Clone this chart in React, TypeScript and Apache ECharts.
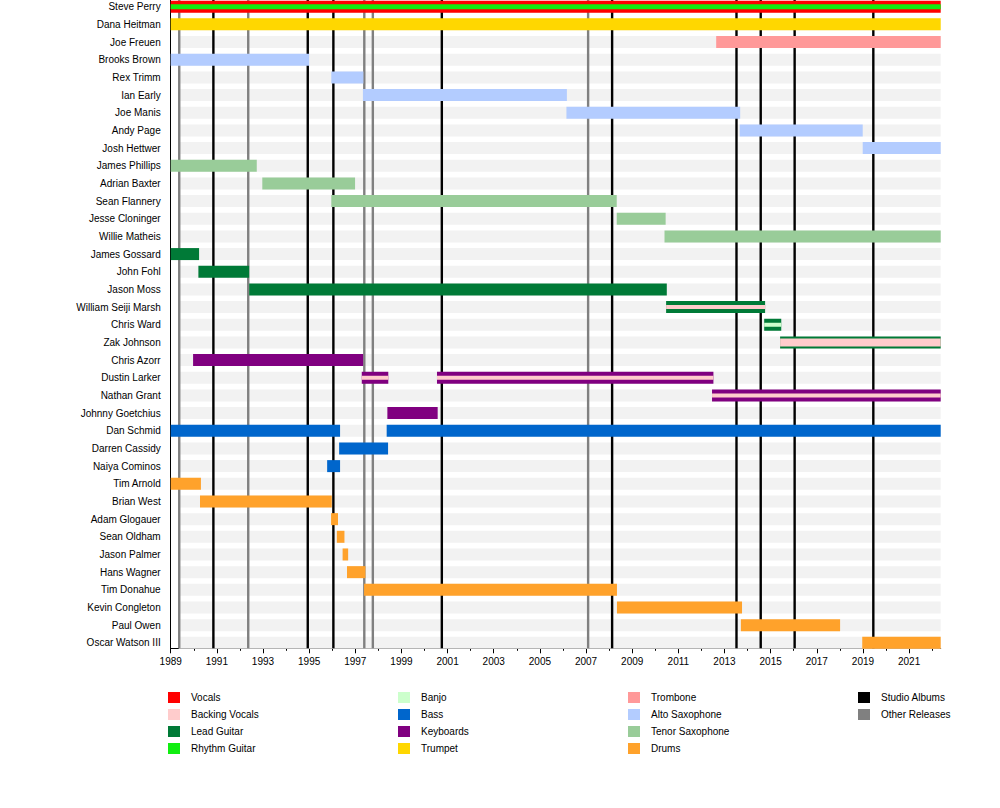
import React, { useEffect, useRef } from "react";
import * as echarts from "echarts";

// ---------- DATA ----------
const START = 1989;
const END = 2022.37;
const STRIPE_START = 1989.35;

const members = [
  "Steve Perry", "Dana Heitman", "Joe Freuen", "Brooks Brown", "Rex Trimm", "Ian Early",
  "Joe Manis", "Andy Page", "Josh Hettwer", "James Phillips", "Adrian Baxter", "Sean Flannery",
  "Jesse Cloninger", "Willie Matheis", "James Gossard", "John Fohl", "Jason Moss",
  "William Seiji Marsh", "Chris Ward", "Zak Johnson", "Chris Azorr", "Dustin Larker",
  "Nathan Grant", "Johnny Goetchius", "Dan Schmid", "Darren Cassidy", "Naiya Cominos",
  "Tim Arnold", "Brian West", "Adam Glogauer", "Sean Oldham", "Jason Palmer", "Hans Wagner",
  "Tim Donahue", "Kevin Congleton", "Paul Owen", "Oscar Watson III",
];

const majorTickYears = [1989, 1991, 1993, 1995, 1997, 1999, 2001, 2003, 2005, 2007, 2009, 2011, 2013, 2015, 2017, 2019, 2021];
const minorTickYears = [1990, 1992, 1994, 1996, 1998, 2000, 2002, 2004, 2006, 2008, 2010, 2012, 2014, 2016, 2018, 2020, 2022];

const studioAlbums = [1990.85, 1994.94, 1996.05, 2000.75, 2008.13, 2013.52, 2014.57, 2016.04, 2019.45];
const otherReleases = [1989.37, 1992.36, 1997.39, 1997.76, 2007.09];

// [member, from, to]
const vocals = [["Steve Perry", 1989, END]];
const trumpet = [["Dana Heitman", 1989, END]];
const trombone = [["Joe Freuen", 2012.64, END]];
const altoSaxophone = [
  ["Brooks Brown", 1989, 1995.0],
  ["Rex Trimm", 1995.96, 1997.35],
  ["Ian Early", 1997.33, 2006.17],
  ["Joe Manis", 2006.15, 2013.68],
  ["Andy Page", 2013.66, 2018.99],
  ["Josh Hettwer", 2018.99, END],
];
const tenorSaxophone = [
  ["James Phillips", 1989, 1992.73],
  ["Adrian Baxter", 1992.97, 1996.99],
  ["Sean Flannery", 1995.96, 2008.33],
  ["Jesse Cloninger", 2008.33, 2010.45],
  ["Willie Matheis", 2010.4, END],
];
const leadGuitar = [
  ["James Gossard", 1989, 1990.23],
  ["John Fohl", 1990.2, 1992.4],
  ["Jason Moss", 1992.4, 2010.5],
  ["William Seiji Marsh", 2010.47, 2014.76],
  ["Chris Ward", 2014.72, 2015.46],
  ["Zak Johnson", 2015.41, END],
];
const keyboards = [
  ["Chris Azorr", 1989.97, 1997.34],
  ["Dustin Larker", 1997.28, 1998.43],
  ["Dustin Larker", 2000.54, 2012.52],
  ["Nathan Grant", 2012.46, END],
  ["Johnny Goetchius", 1998.39, 2000.57],
];
const bass = [
  ["Dan Schmid", 1989, 1996.34],
  ["Dan Schmid", 1998.36, END],
  ["Darren Cassidy", 1996.3, 1998.42],
  ["Naiya Cominos", 1995.78, 1996.34],
];
const drums = [
  ["Tim Arnold", 1989, 1990.31],
  ["Brian West", 1990.27, 1995.98],
  ["Adam Glogauer", 1995.95, 1996.25],
  ["Sean Oldham", 1996.2, 1996.53],
  ["Jason Palmer", 1996.45, 1996.69],
  ["Hans Wagner", 1996.64, 1997.44],
  ["Tim Donahue", 1997.38, 2008.34],
  ["Kevin Congleton", 2008.34, 2013.76],
  ["Paul Owen", 2013.71, 2018.01],
  ["Oscar Watson III", 2018.97, END],
];
// secondary roles (drawn as thin stripes inside the main bar)
const rhythmGuitar = [["Steve Perry", 1989, END]];
const backingVocals = [
  ["William Seiji Marsh", 2010.47, 2014.76],
  ["Zak Johnson", 2015.41, END],
  ["Dustin Larker", 1997.28, 1998.43],
  ["Dustin Larker", 2000.54, 2012.52],
  ["Nathan Grant", 2012.46, END],
];
const banjo = [["Chris Ward", 2014.72, 2015.46]];

// ---------- STYLE ----------
const COLORS: Record<string, string> = {
  "Vocals": "#ff0000",
  "Backing Vocals": "#ffcccc",
  "Lead Guitar": "#007a37",
  "Rhythm Guitar": "#11ee11",
  "Banjo": "#ccffcc",
  "Bass": "#0066cc",
  "Keyboards": "#800080",
  "Trumpet": "#ffd700",
  "Trombone": "#ff9999",
  "Alto Saxophone": "#b3ccff",
  "Tenor Saxophone": "#99cc99",
  "Drums": "#ffa22b",
  "Studio Albums": "#000000",
  "Other Releases": "#808080",
};
const FONT = "'Liberation Sans', Arial, Helvetica, sans-serif";
const BAR_H = 12;
const STRIPE_H = 4;
const STRIPE_OVERRIDES: Record<string, number> = { "Steve Perry": 5, "Zak Johnson": 8 };

const toData = (spans: any[]) =>
  spans.map((s) => [s[1], s[2], members.indexOf(s[0])]);

const makeRect = (fixedH: number | null) => (params: any, api: any) => {
  const row = api.value(2);
  const a = api.coord([api.value(0), row]);
  const b = api.coord([api.value(1), row]);
  const h = fixedH != null ? fixedH : (STRIPE_OVERRIDES[members[row]] ?? STRIPE_H);
  return {
    type: "rect",
    shape: { x: a[0], y: a[1] - h / 2, width: b[0] - a[0], height: h },
    style: { fill: api.visual("color") },
  };
};

const vLine = (params: any, api: any) => {
  const x = api.coord([api.value(0), 0])[0];
  const cs = params.coordSys;
  return {
    type: "line",
    shape: { x1: x, y1: cs.y, x2: x, y2: cs.y + cs.height },
    style: { stroke: api.visual("color"), lineWidth: 2.4 },
  };
};

const barSeries = (name: string, spans: any[], z: number, h: number | null) => ({
  name,
  type: "custom",
  renderItem: makeRect(h),
  encode: { x: [0, 1], y: 2 },
  itemStyle: { color: COLORS[name] },
  data: toData(spans),
  z,
  silent: true,
});

const lineSeries = (name: string, years: number[]) => ({
  name,
  type: "custom",
  renderItem: vLine,
  encode: { x: 0, y: 1 },
  itemStyle: { color: COLORS[name] },
  data: years.map((y) => [y, 0]),
  z: 2,
  silent: true,
});

const legendBlock = (items: string[], left: number) => ({
  show: true,
  orient: "vertical",
  left,
  top: 692,
  padding: 0,
  itemWidth: 12,
  itemHeight: 11,
  itemGap: 6,
  icon: "rect",
  selectedMode: false,
  data: items,
  textStyle: { fontSize: 10, color: "#000", fontFamily: FONT, lineHeight: 11, padding: [0, 0, 0, 6] },
});

export default function App() {
  const ref = useRef<HTMLDivElement>(null);
  useEffect(() => {
    document.body.style.margin = "0";
    const chart = echarts.init(ref.current!, null, { renderer: "svg" });
    const option: any = {
      animation: false,
      backgroundColor: "#ffffff",
      textStyle: { fontFamily: FONT },
      grid: { left: 170.7, right: 59.3, top: 0, bottom: 159.7, outerBoundsMode: "none" },
      xAxis: [
        {
          type: "value",
          min: START,
          max: END,
          position: "bottom",
          axisLine: { show: true, onZero: false, lineStyle: { color: "#000", width: 1 } },
          axisTick: { show: true, length: 5, customValues: majorTickYears, lineStyle: { color: "#000", width: 1 } },
          axisLabel: { show: true, customValues: majorTickYears, fontSize: 10, color: "#000", margin: 8, fontFamily: FONT, formatter: (v: number) => String(Math.round(v)) },
          splitLine: { show: false },
        },
        {
          type: "value",
          min: START,
          max: END,
          position: "bottom",
          axisLine: { show: false, onZero: false },
          axisTick: { show: true, length: 2.5, customValues: minorTickYears, lineStyle: { color: "#000", width: 1 } },
          axisLabel: { show: false },
          splitLine: { show: false },
        },
      ],
      yAxis: {
        type: "value",
        inverse: true,
        min: -0.379,
        max: 36.31,
        axisLine: { show: true, onZero: false, lineStyle: { color: "#000", width: 1 } },
        axisTick: { show: false },
        splitLine: { show: false },
        axisLabel: {
          show: true,
          customValues: members.map((_, i) => i),
          formatter: (v: number) => members[Math.round(v)] ?? "",
          fontSize: 10,
          color: "#000",
          margin: 10,
          fontFamily: FONT,
        },
      },
      legend: [
        legendBlock(["Vocals", "Backing Vocals", "Lead Guitar", "Rhythm Guitar"], 168),
        legendBlock(["Banjo", "Bass", "Keyboards", "Trumpet"], 398),
        legendBlock(["Trombone", "Alto Saxophone", "Tenor Saxophone", "Drums"], 628),
        legendBlock(["Studio Albums", "Other Releases"], 858),
      ],
      series: [
        {
          name: "rows",
          type: "custom",
          renderItem: makeRect(BAR_H),
          encode: { x: [0, 1], y: 2 },
          itemStyle: { color: "#f2f2f2" },
          data: members.map((_, i) => [STRIPE_START, END, i]),
          z: 1,
          silent: true,
        },
        lineSeries("Studio Albums", studioAlbums),
        lineSeries("Other Releases", otherReleases),
        barSeries("Vocals", vocals, 3, BAR_H),
        barSeries("Trumpet", trumpet, 3, BAR_H),
        barSeries("Trombone", trombone, 3, BAR_H),
        barSeries("Alto Saxophone", altoSaxophone, 3, BAR_H),
        barSeries("Tenor Saxophone", tenorSaxophone, 3, BAR_H),
        barSeries("Lead Guitar", leadGuitar, 3, BAR_H),
        barSeries("Keyboards", keyboards, 3, BAR_H),
        barSeries("Bass", bass, 3, BAR_H),
        barSeries("Drums", drums, 3, BAR_H),
        barSeries("Rhythm Guitar", rhythmGuitar, 4, null),
        barSeries("Backing Vocals", backingVocals, 4, null),
        barSeries("Banjo", banjo, 4, null),
      ],
    };
    chart.setOption(option);
    return () => chart.dispose();
  }, []);
  return <div ref={ref} style={{ width: 1000, height: 808 }} />;
}
